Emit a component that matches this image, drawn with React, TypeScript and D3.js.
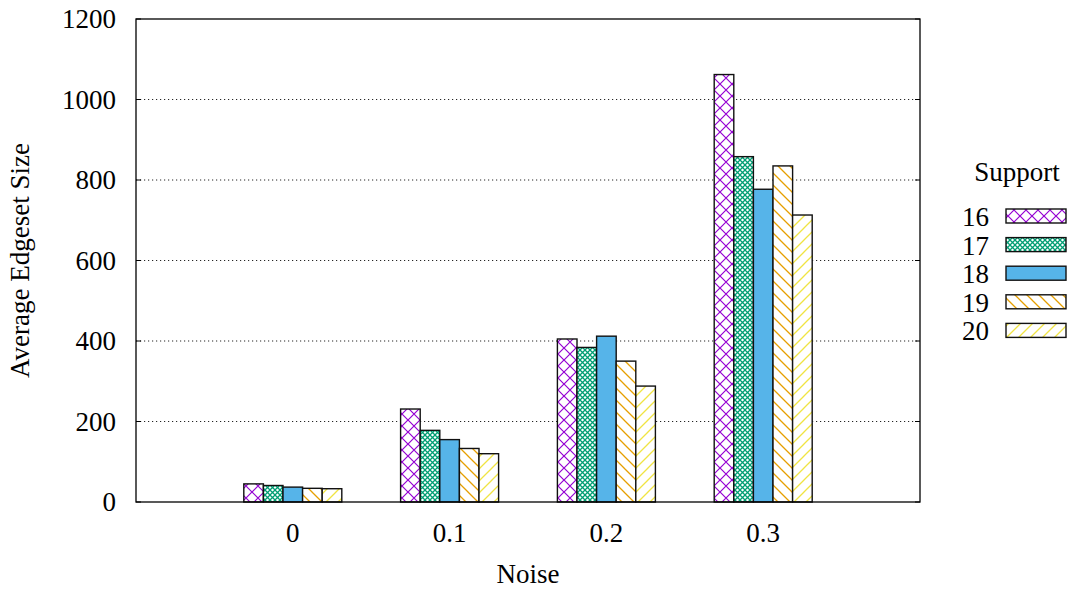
import React from "react";
import * as d3 from "d3";

const categories = ["0", "0.1", "0.2", "0.3"];
const seriesNames = ["16", "17", "18", "19", "20"];
const s16 = [45, 231, 405, 1062];
const s17 = [41, 178, 384, 858];
const s18 = [37, 155, 412, 777];
const s19 = [34, 133, 350, 835];
const s20 = [33, 120, 288, 713];
const seriesValues = [s16, s17, s18, s19, s20];
const yTicks = [0, 200, 400, 600, 800, 1000, 1200];
const colors = ["#9400d3", "#009e73", "#56b4e9", "#e69f00", "#f0e442"];

const W = 1073;
const H = 590;
const M = { left: 136, right: 920, top: 19, bottom: 502 };
const txt: React.CSSProperties = { fontFamily: "Liberation Serif", fontSize: "27px" };

export default function App() {
  const x = d3.scaleLinear().domain([-1, 4]).range([M.left, M.right]);
  const y = d3.scaleLinear().domain([0, 1200]).range([M.bottom, M.top]);
  const bw = 0.125;

  const fills = ["url(#p16)", "url(#p17)", colors[2], "url(#p19)", "url(#p20)"];

  const legendX = 1006;
  const legendY0 = 209;
  const legendStep = 28.6;

  return (
    <svg width={W} height={H} style={{ position: "absolute", left: 0, top: 0, background: "#fff" }}>
      <defs>
        <pattern id="p16" patternUnits="userSpaceOnUse" width="12" height="12">
          <rect width="12" height="12" fill="#fff" />
          <path d="M0,0 L12,12 M12,0 L0,12" stroke={colors[0]} strokeWidth="1.2" />
        </pattern>
        <pattern id="p17" patternUnits="userSpaceOnUse" width="5" height="5">
          <rect width="5" height="5" fill="#fff" />
          <path d="M0,0 L5,5 M5,0 L0,5" stroke={colors[1]} strokeWidth="1.3" />
        </pattern>
        <pattern id="p19" patternUnits="userSpaceOnUse" width="12" height="12">
          <rect width="12" height="12" fill="#fff" />
          <path d="M-3,9 L3,15 M0,0 L12,12 M9,-3 L15,3" stroke={colors[3]} strokeWidth="1.3" />
        </pattern>
        <pattern id="p20" patternUnits="userSpaceOnUse" width="12" height="12">
          <rect width="12" height="12" fill="#fff" />
          <path d="M-3,3 L3,-3 M0,12 L12,0 M9,15 L15,9" stroke={colors[4]} strokeWidth="1.3" />
        </pattern>
      </defs>

      {yTicks.slice(1, -1).map((t) => (
        <line key={"g" + t} x1={M.left} x2={M.right} y1={y(t)} y2={y(t)}
          stroke="#000" strokeWidth={1} strokeDasharray="1.2,2.8" opacity={0.85} />
      ))}

      {seriesValues.map((vals, si) =>
        vals.map((v, ci) => {
          const x0 = x(ci + (si - 2.5) * bw);
          const x1 = x(ci + (si - 1.5) * bw);
          return (
            <rect key={si + "-" + ci} x={x0} y={y(v)} width={x1 - x0} height={y(0) - y(v)}
              fill={fills[si]} stroke="#111" strokeWidth={1.4} />
          );
        })
      )}

      <rect x={M.left} y={M.top} width={M.right - M.left} height={M.bottom - M.top}
        fill="none" stroke="#000" strokeWidth={1.3} />
      {yTicks.map((t) => (
        <g key={"t" + t}>
          <line x1={M.left} x2={M.left + 5} y1={y(t)} y2={y(t)} stroke="#000" />
          <line x1={M.right} x2={M.right - 5} y1={y(t)} y2={y(t)} stroke="#000" />
          <text x={M.left - 20} y={y(t) + 9} textAnchor="end" style={txt}>{t}</text>
        </g>
      ))}
      {categories.map((c, i) => (
        <text key={"c" + c} x={x(i)} y={542} textAnchor="middle" style={txt}>{c}</text>
      ))}

      <text x={(M.left + M.right) / 2} y={583} textAnchor="middle" style={txt}>Noise</text>
      <text transform={`translate(29, ${(M.top + M.bottom) / 2}) rotate(-90)`} textAnchor="middle"
        style={txt}>Average Edgeset Size</text>

      <text x={1017} y={181} textAnchor="middle" style={txt}>Support</text>
      {seriesNames.map((n, i) => (
        <g key={"l" + n}>
          <text x={989} y={legendY0 + i * legendStep + 17} textAnchor="end" style={txt}>{n}</text>
          <rect x={legendX} y={legendY0 + i * legendStep} width={60} height={14}
            fill={fills[i]} stroke="#111" strokeWidth={1.4} />
        </g>
      ))}
    </svg>
  );
}
